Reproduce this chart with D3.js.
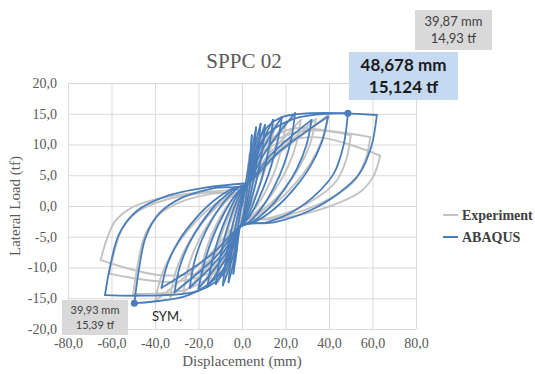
<!DOCTYPE html>
<html>
<head>
<meta charset="utf-8">
<script src="https://cdn.jsdelivr.net/npm/d3@7"></script>
<style>
  body { margin: 0; background: #fff; }
  svg { display: block; }
</style>
</head>
<body>
<div id="chart"></div>
<script>
// chart data
const chartTitle = "SPPC 02";
const xTicks = [-80, -60, -40, -20, 0, 20, 40, 60, 80];
const yTicks = [-20, -15, -10, -5, 0, 5, 10, 15, 20];
const seriesNames = ["Experiment", "ABAQUS"];

// Experiment hysteresis (displacement mm, load tf)
const experimentPts = [
  [0,0],[2.5,5.5],[3.5,8.5],[2.9,5.73],[2.0,2.95],[1.0,0.73],[0.0,-1.05],[-0.9,-2.16],[-1.5,-2.6],
  [-2.6,-5.8],[-3.5,-8.5],[-2.86,-5.7],[-1.91,-2.9],[-0.85,-0.66],[0.21,1.13],[1.16,2.25],[1.8,2.7],
  [3.1,6.98],[4.39,9.15],[5.5,10.5],[4.66,7.23],[3.4,3.95],[2.0,1.33],[0.6,-0.77],[-0.66,-2.08],[-1.5,-2.6],
  [-2.9,-6.74],[-4.3,-8.93],[-5.5,-10.5],[-4.62,-7.2],[-3.31,-3.9],[-1.85,-1.26],[-0.39,0.85],[0.92,2.17],[1.8,2.7],
  [3.97,6.79],[6.14,9.67],[8,11.8],[6.86,8.2],[5.15,4.6],[3.25,1.72],[1.35,-0.58],[-0.36,-2.02],[-1.5,-2.6],
  [-3.78,-6.62],[-6.05,-9.43],[-8,-11.5],[-6.82,-7.95],[-5.06,-4.4],[-3.1,-1.56],[-1.14,0.71],[0.62,2.13],[1.8,2.7],
  [5.02,7.03],[8.24,10.16],[11,12.5],[9.5,8.73],[7.25,4.95],[4.75,1.93],[2.25,-0.49],[0.0,-1.99],[-1.5,-2.6],
  [-4.83,-6.9],[-8.15,-9.99],[-11,-12.3],[-9.46,-8.55],[-7.16,-4.8],[-4.6,-1.8],[-2.04,0.6],[0.26,2.1],[1.8,2.7],
  [6.42,7.27],[11.04,10.58],[15,13.2],[13.02,9.25],[10.05,5.3],[6.75,2.14],[3.45,-0.39],[0.48,-1.97],[-1.5,-2.6],
  [-6.23,-7.14],[-10.95,-10.48],[-15,-13],[-12.98,-9.08],[-9.96,-5.15],[-6.6,-2.01],[-3.24,0.5],[-0.22,2.07],[1.8,2.7],
  [8.17,7.44],[14.54,10.86],[20,13.6],[18.5,9.87],[15.7,6.31],[11.83,3.07],[7.1,0.15],[2.37,-1.79],[-1.5,-2.6],
  [-7.98,-7.32],[-14.45,-10.83],[-20,-13.5],[-18.47,-9.77],[-15.64,-6.21],[-11.72,-2.97],[-6.92,-0.05],[-2.12,1.89],[1.8,2.7],
  [10.59,7.65],[19.44,11.15],[27,14],[25.0,10.18],[21.3,6.53],[16.17,3.21],[9.9,0.22],[3.63,-1.77],[-1.5,-2.6],
  [-10.43,-7.56],[-19.35,-11.32],[-27,-14.2],[-24.98,-10.31],[-21.24,-6.6],[-16.06,-3.22],[-9.72,-0.17],[-3.38,1.86],[1.8,2.7],
  [13.04,7.72],[24.34,11.24],[34,14.2],[31.52,10.34],[26.9,6.64],[20.51,3.28],[12.7,0.26],[4.89,-1.76],[-1.5,-2.6],
  [-12.53,-7.77],[-23.55,-11.74],[-33,-14.8],[-30.56,-10.78],[-26.04,-6.93],[-19.78,-3.43],[-12.12,-0.28],[-4.46,1.83],[1.8,2.7],
  [15.1,7.97],[28.47,11.73],[39.9,14.9],[37.0,10.88],[31.62,7.03],[24.17,3.53],[15.06,0.38],[5.95,-1.73],[-1.5,-2.6],
  [-15.09,-7.98],[-28.38,-12.16],[-39.9,-15.4],[-36.98,-11.24],[-31.56,-7.26],[-24.05,-3.64],[-14.88,-0.38],[-5.71,1.8],[1.8,2.7],
  [8,8.8],[22,12.5],[50,11.5],[47.94,7.55],[43.31,4.03],[35.07,1.49],[24.25,-0.63],[11.38,-2.04],[-1.5,-2.6],
  [-9,-9.5],[-25,-13.5],[-50,-14.3],[-47.93,-9.54],[-44.82,-4.95],[-38.6,-1.55],[-28.24,0.66],[-13.74,2.02],[1.8,2.7],
  [8,8.8],[28,12.2],[59,11.2],[56.58,7.34],[51.14,3.89],[41.46,1.4],[28.75,-0.67],[13.63,-2.05],[-1.5,-2.6],
  [-9,-9.5],[-30,-12.3],[-61,-11],[-58.49,-7.16],[-54.72,-3.47],[-47.18,-0.73],[-34.62,1.06],[-17.04,2.15],[1.8,2.7],
  [8,8.5],[33,11.2],[63.5,8.2],[60.9,5.18],[55.05,2.48],[44.65,0.53],[31.0,-1.09],[14.75,-2.17],[-1.5,-2.6],
  [-9,-9.3],[-35,-11.3],[-65,-8.8],[-62.33,-5.58],[-58.32,-2.47],[-50.3,-0.18],[-36.94,1.32],[-18.24,2.24],[1.8,2.7]
];

// ABAQUS hysteresis (displacement mm, load tf)
const abaqusPts = [
  [0,0],[3.7,8.2],[4.5,11.5],[3.84,7.77],[2.85,4.05],[1.75,1.07],[0.65,-1.31],[-0.34,-2.8],[-1,-3.4],
  [-2.6,-7.8],[-4,-11],[-3.18,-7.32],[-1.96,-3.65],[-0.6,-0.71],[0.76,1.64],[1.98,3.11],[2.8,3.7],
  [4.1,7.79],[5.39,10.67],[6.5,12.8],[5.6,8.75],[4.25,4.7],[2.75,1.46],[1.25,-1.13],[-0.1,-2.75],[-1,-3.4],
  [-2.82,-7.45],[-4.64,-10.3],[-6.2,-12.4],[-5.12,-8.38],[-3.5,-4.35],[-1.7,-1.13],[0.1,1.45],[1.72,3.06],[2.8,3.7],
  [4.83,8.0],[6.86,11.09],[8.6,13.4],[7.45,9.2],[5.72,5.0],[3.8,1.64],[1.88,-1.05],[0.15,-2.73],[-1,-3.4],
  [-3.73,-7.63],[-6.46,-10.65],[-8.8,-12.9],[-7.41,-8.75],[-5.32,-4.6],[-3.0,-1.28],[-0.68,1.38],[1.41,3.04],[2.8,3.7],
  [5.53,7.93],[8.26,10.95],[10.6,13.2],[9.21,9.05],[7.12,4.9],[4.8,1.58],[2.48,-1.08],[0.39,-2.74],[-1,-3.4],
  [-4.85,-7.56],[-8.7,-10.51],[-12,-12.7],[-10.22,-8.6],[-7.56,-4.5],[-4.6,-1.22],[-1.64,1.4],[1.02,3.04],[2.8,3.7],
  [6.83,8.21],[10.85,11.51],[14.3,14.0],[12.46,9.65],[9.71,5.3],[6.65,1.82],[3.59,-0.96],[0.84,-2.7],[-1,-3.4],
  [-6.25,-7.73],[-11.5,-10.86],[-16,-13.2],[-13.74,-8.98],[-10.36,-4.75],[-6.6,-1.37],[-2.84,1.33],[0.54,3.02],[2.8,3.7],
  [8.26,8.38],[13.72,11.86],[18.4,14.5],[16.07,10.03],[12.58,5.55],[8.7,1.97],[4.82,-0.89],[1.33,-2.68],[-1,-3.4],
  [-7.65,-7.8],[-14.3,-11.0],[-20,-13.4],[-17.26,-9.13],[-13.16,-4.85],[-8.6,-1.43],[-4.04,1.31],[0.06,3.02],[2.8,3.7],
  [10.36,8.59],[17.92,12.28],[24.4,15.1],[22.62,10.84],[19.32,6.77],[14.75,3.07],[9.16,-0.26],[3.57,-2.48],[-1,-3.4],
  [-9.05,-7.77],[-17.1,-10.93],[-24,-13.3],[-22.12,-9.39],[-18.64,-5.65],[-13.82,-2.25],[-7.92,0.81],[-2.02,2.85],[2.8,3.7],
  [13.02,8.21],[23.24,11.51],[32,14.0],[29.69,10.0],[25.4,6.17],[19.46,2.69],[12.2,-0.44],[4.94,-2.53],[-1,-3.4],
  [-11.5,-8.01],[-22,-11.42],[-31,-14],[-28.63,-9.93],[-24.24,-6.04],[-18.16,-2.5],[-10.72,0.69],[-3.28,2.82],[2.8,3.7],
  [15.65,8.38],[28.49,11.86],[39.5,14.5],[36.67,10.38],[31.4,6.45],[24.11,2.87],[15.2,-0.36],[6.29,-2.51],[-1,-3.4],
  [-13.6,-7.77],[-26.2,-10.93],[-37,-13.3],[-34.21,-9.39],[-29.04,-5.65],[-21.88,-2.25],[-13.12,0.81],[-4.36,2.85],[2.8,3.7],
  [9.5,10.8],[24,14.2],[48.7,15.1],[46.71,9.92],[42.24,5.3],[34.29,1.97],[23.85,-0.81],[11.43,-2.66],[-1,-3.4],
  [-9,-10.5],[-24,-14.4],[-49.5,-15.8],[-47.41,-10.34],[-44.27,-5.07],[-37.99,-1.17],[-27.53,1.36],[-12.89,2.92],[2.8,3.7],
  [8,11],[18,14.4],[62,14.8],[59.48,9.7],[53.81,5.15],[43.73,1.88],[30.5,-0.85],[14.75,-2.67],[-1,-3.4],
  [-8,-10.8],[-20,-13.8],[-63,-14.5],[-60.37,-9.4],[-56.42,-4.49],[-48.52,-0.85],[-35.36,1.52],[-16.94,2.97],[2.8,3.7]
];

// highlighted peaks and their callouts
const markerPts = [[48.7, 15.1], [-49.5, -15.8]];
const calloutTopGrey = ["39,87 mm", "14,93 tf"];
const calloutBlue = ["48,678 mm", "15,124 tf"];
const calloutBottomGrey = ["39,93 mm", "15,39 tf"];

const width = 535, height = 374;
const plot = { left: 68, right: 416, top: 83, bottom: 329 };
const serif = "'Liberation Serif', 'Times New Roman', serif";
const sans = "Lato, 'Liberation Sans', sans-serif";
const blue = "#4a7ebb", grey = "#c3c3c3";

const svg = d3.select("#chart").append("svg")
  .attr("width", width)
  .attr("height", height);

svg.append("rect").attr("width", width).attr("height", height).attr("fill", "#fff");

const x = d3.scaleLinear().domain([-80, 80]).range([plot.left, plot.right]);
const y = d3.scaleLinear().domain([-20, 20]).range([plot.bottom, plot.top]);
const fmt = d => d.toFixed(1).replace(".", ",");

// axes with gridlines
const xAxis = svg.append("g")
  .attr("transform", `translate(0,${plot.bottom})`)
  .call(d3.axisBottom(x).tickValues(xTicks).tickFormat(fmt)
    .tickSize(-(plot.bottom - plot.top)).tickPadding(9));
const yAxis = svg.append("g")
  .attr("transform", `translate(${plot.left},0)`)
  .call(d3.axisLeft(y).tickValues(yTicks).tickFormat(fmt)
    .tickSize(-(plot.right - plot.left)).tickPadding(11));

[xAxis, yAxis].forEach(a => {
  a.select(".domain").remove();
  a.selectAll(".tick line").attr("stroke", "#d9d9d9").attr("stroke-width", 1);
  a.selectAll(".tick text")
    .attr("fill", "#595959")
    .style("font-family", serif)
    .style("font-size", "14px");
});

// split a loop series into branches at each displacement reversal,
// so peaks stay sharp while each branch is smoothed
function branches(pts) {
  const out = [];
  let cur = [pts[0]];
  let dir = 0;
  for (let i = 1; i < pts.length; i++) {
    const d = Math.sign(pts[i][0] - pts[i - 1][0]);
    if (dir !== 0 && d !== 0 && d !== dir) {
      out.push(cur);
      cur = [pts[i - 1]];
    }
    if (d !== 0) dir = d;
    cur.push(pts[i]);
  }
  out.push(cur);
  return out;
}

const line = d3.line()
  .x(d => x(d[0]))
  .y(d => y(d[1]))
  .curve(d3.curveCatmullRom.alpha(0.5));

function drawSeries(pts, color, w) {
  svg.append("g")
    .selectAll("path")
    .data(branches(pts))
    .enter().append("path")
    .attr("fill", "none")
    .attr("stroke", color)
    .attr("stroke-width", w)
    .attr("stroke-linejoin", "round")
    .attr("stroke-linecap", "round")
    .attr("d", line);
}

drawSeries(experimentPts, grey, 1.9);
drawSeries(abaqusPts, blue, 1.8);

svg.selectAll(".peak")
  .data(markerPts)
  .enter().append("circle")
  .attr("class", "peak")
  .attr("cx", d => x(d[0]))
  .attr("cy", d => y(d[1]))
  .attr("r", 3.5)
  .attr("fill", blue);

// title and axis titles
svg.append("text")
  .attr("x", 244).attr("y", 68)
  .attr("text-anchor", "middle")
  .attr("fill", "#595959")
  .style("font-family", serif)
  .style("font-size", "21px")
  .text(chartTitle);

svg.append("text")
  .attr("x", 242).attr("y", 366)
  .attr("text-anchor", "middle")
  .attr("fill", "#595959")
  .style("font-family", serif)
  .style("font-size", "15px")
  .text("Displacement (mm)");

svg.append("text")
  .attr("transform", "translate(20,206) rotate(-90)")
  .attr("text-anchor", "middle")
  .attr("fill", "#595959")
  .style("font-family", serif)
  .style("font-size", "15px")
  .text("Lateral Load (tf)");

// legend
const legend = svg.append("g").attr("transform", "translate(443,215)");
seriesNames.forEach((name, i) => {
  const g = legend.append("g").attr("transform", `translate(0,${i * 22})`);
  g.append("line")
    .attr("x1", 0).attr("x2", 15)
    .attr("stroke", i === 0 ? grey : blue)
    .attr("stroke-width", 2);
  g.append("text")
    .attr("x", 19).attr("y", 5)
    .attr("fill", "#404040")
    .style("font-family", serif)
    .style("font-size", "14px")
    .style("font-weight", "bold")
    .text(name);
});

// callout boxes
function callout(lines, bx, by, bw, bh, fill, size, weight, lineGap) {
  const g = svg.append("g");
  g.append("rect")
    .attr("x", bx).attr("y", by)
    .attr("width", bw).attr("height", bh)
    .attr("fill", fill);
  lines.forEach((t, i) => {
    g.append("text")
      .attr("x", bx + bw / 2)
      .attr("y", by + bh / 2 - lineGap / 2 + i * lineGap + size * 0.35)
      .attr("text-anchor", "middle")
      .attr("fill", weight === "bold" ? "#1a1a1a" : "#404040")
      .style("font-family", sans)
      .style("font-size", size + "px")
      .style("font-weight", weight)
      .text(t);
  });
}

callout(calloutTopGrey, 415, 10, 77, 40, "#d9d9d9", 13, "normal", 17);
callout(calloutBlue, 349, 52, 109, 48, "#c5d9f1", 17, "bold", 22);
callout(calloutBottomGrey, 62, 300, 66, 35, "#d9d9d9", 11, "normal", 15);

svg.append("text")
  .attr("x", 152).attr("y", 321)
  .attr("fill", "#262626")
  .style("font-family", sans)
  .style("font-size", "13px")
  .text("SYM.");
</script>
</body>
</html>
